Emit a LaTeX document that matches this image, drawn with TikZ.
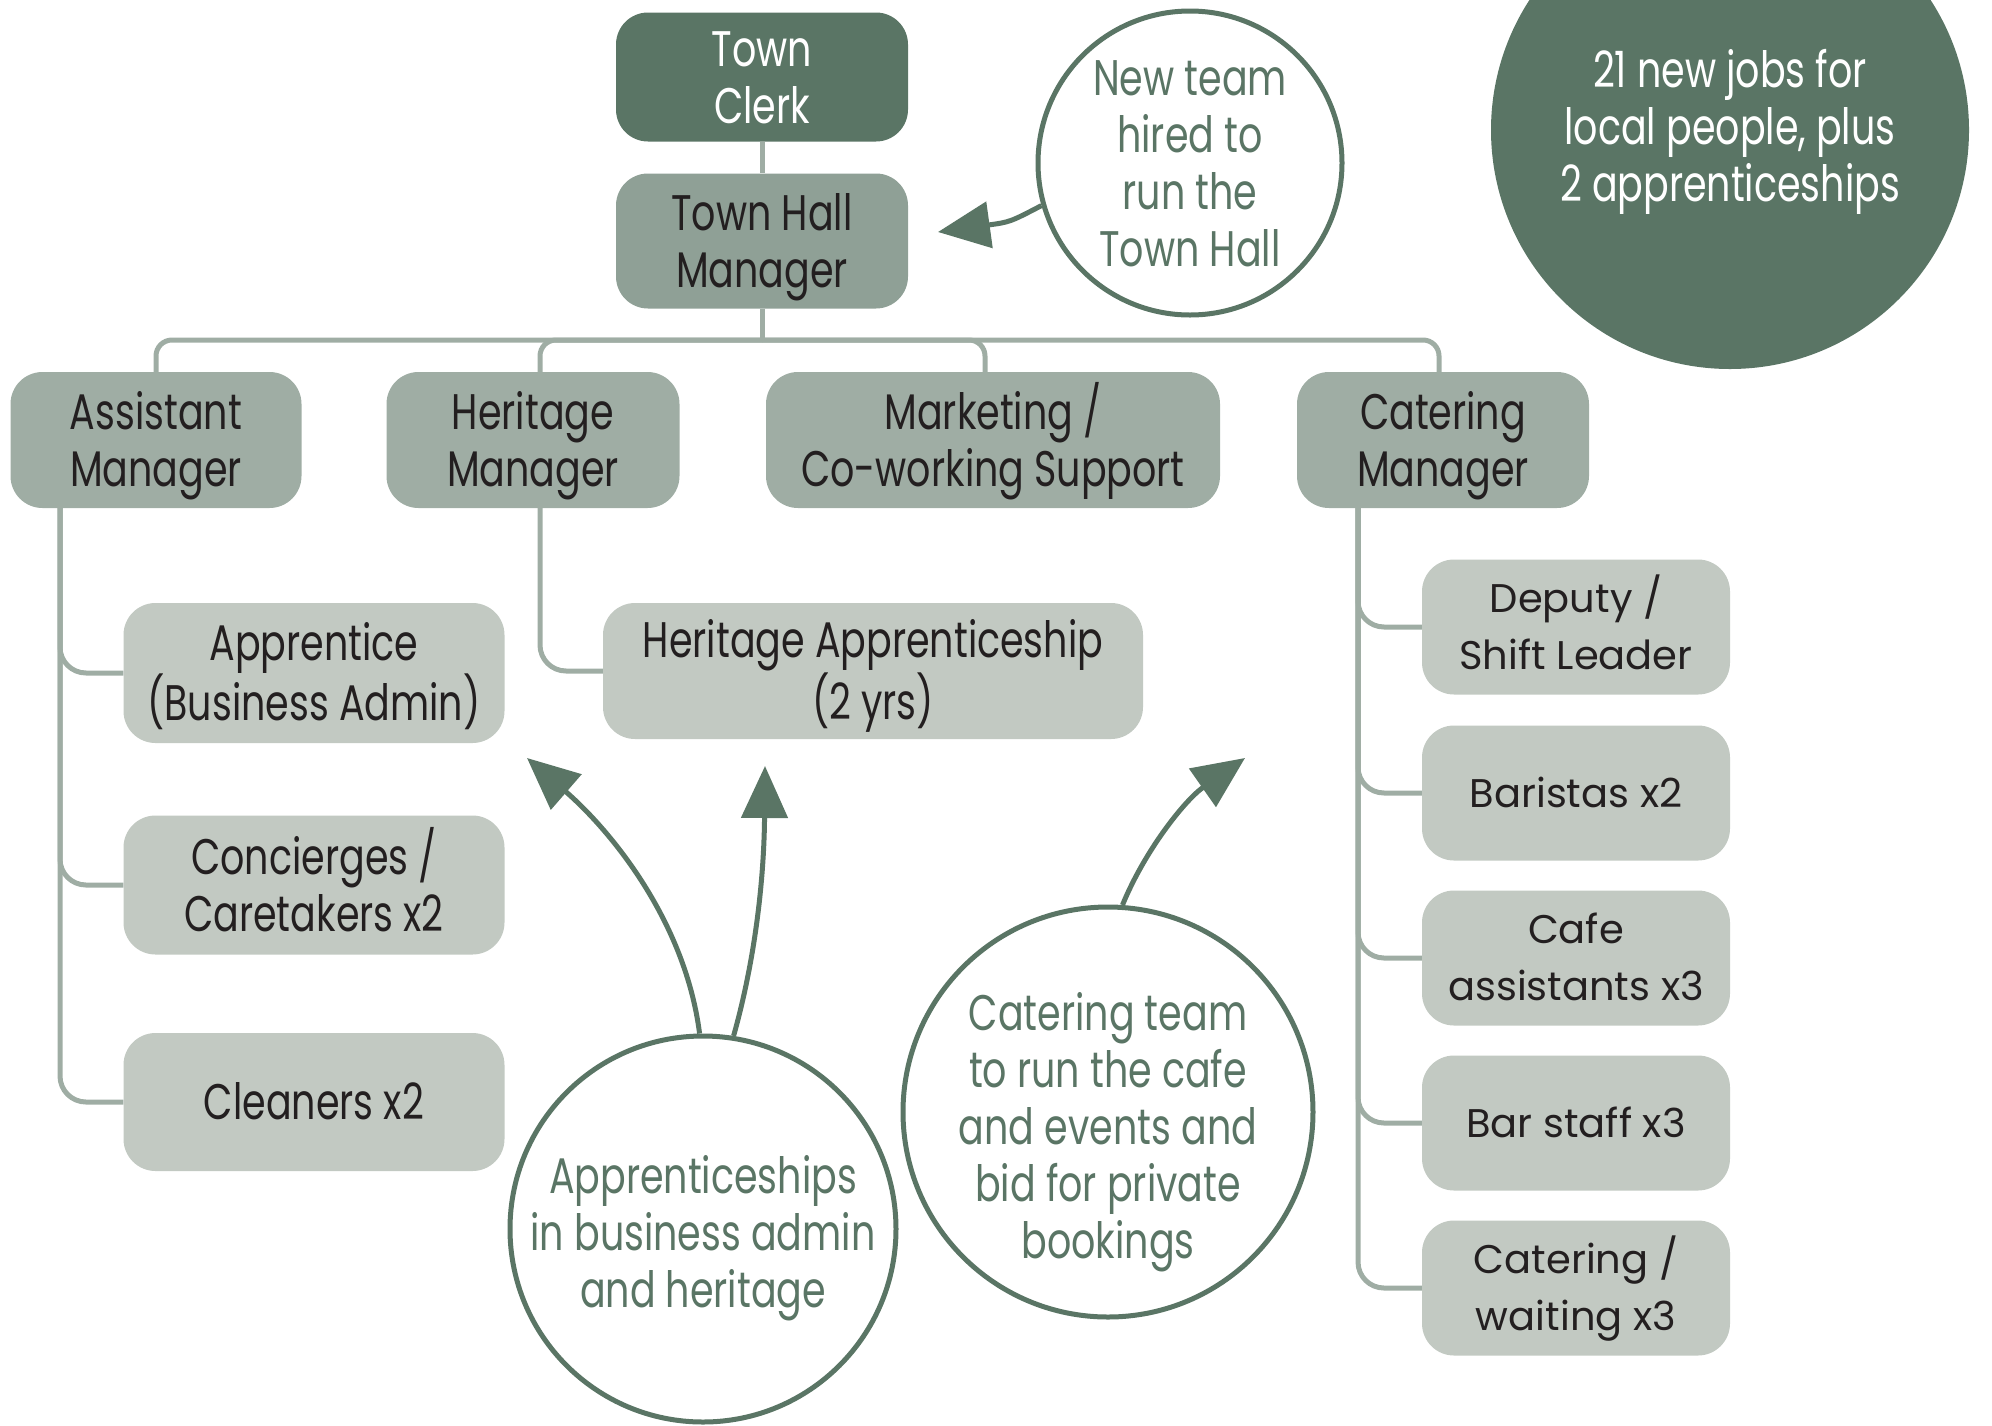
\documentclass[tikz,border=0pt]{standalone}
\usepackage{fontspec}
\setmainfont{Poppins}[FakeStretch=0.76]
\newfontfamily\widefont{Poppins}
\usetikzlibrary{arrows.meta}
\definecolor{dkgreen}{HTML}{5A7565}
\definecolor{midgreen}{HTML}{8FA096}
\definecolor{mgrgreen}{HTML}{9FADA4}
\definecolor{subgreen}{HTML}{C2C9C2}
\definecolor{linegreen}{HTML}{9FADA4}
\definecolor{txt}{HTML}{231F20}
\newcommand\topst[1][50pt]{\rule{0pt}{#1}}
\newcommand\botst[1][15pt]{\rule[-#1]{0pt}{0pt}}
\tikzset{
  box/.style={rounded corners=32pt, inner sep=0pt, align=center, text=txt,
    font=\fontsize{50}{57}\selectfont},
  mgr/.style={box, fill=mgrgreen, minimum height=136pt},
  sub/.style={box, fill=subgreen, minimum height=137pt},
  catsub/.style={sub, minimum width=308pt, minimum height=135pt,
    font=\widefont\fontsize{40}{57}\selectfont},
  bubble/.style={circle, draw=dkgreen, line width=5pt, fill=white, inner sep=-80pt,
    align=center, text=dkgreen, font=\fontsize{50}{57}\selectfont},
  conn/.style={draw=linegreen, line width=5pt},
  arr/.style={draw=dkgreen, line width=5pt,
    -{Triangle[length=52pt,width=46pt]}},
}
\begin{document}
\begin{tikzpicture}[x=1pt,y=-1pt]
\useasboundingbox (0,0) rectangle (1992,1425);
\clip (0,0) rectangle (1992,1425);
% top
\node[box, fill=dkgreen, text=white, minimum width=292pt, minimum height=129pt] (clerk) at (762,77) {\topst Town\\Clerk\botst};
\node[box, fill=midgreen, minimum width=292pt, minimum height=135pt] (thm) at (762,241) {\topst Town Hall\\Manager\botst};
% managers
\node[mgr, minimum width=291pt] (asst) at (156,440) {\topst Assistant\\Manager\botst};
\node[mgr, minimum width=293pt] (herit) at (533,440) {\topst Heritage\\Manager\botst};
\node[mgr, minimum width=454pt] (mkt) at (993,440) {\topst Marketing /\\Co-working Support\botst};
\node[mgr, minimum width=292pt] (cater) at (1443,440) {\topst Catering\\Manager\botst};
% assistant subs
\node[sub, minimum width=381pt, minimum height=140pt] (appr) at (314,673) {\topst Apprentice\\(Business Admin)\botst};
\node[sub, minimum width=381pt, minimum height=139pt] (conc) at (314,885) {\topst Concierges /\\Caretakers x2\botst};
\node[sub, minimum width=381pt, minimum height=138pt] (clean) at (314,1102) {\topst Cleaners x2\botst};
% heritage sub
\node[sub, minimum width=540pt, minimum height=136pt] (happr) at (873,671) {\topst Heritage Apprenticeship\\(2 yrs)\botst};
% catering subs
\node[catsub] (dep) at (1576,627) {\topst[40pt]Deputy /\\Shift Leader\botst[12pt]};
\node[catsub] (bar) at (1576,793) {\topst[40pt]Baristas x2\botst[12pt]};
\node[catsub] (cafe) at (1576,958) {\topst[40pt]Cafe\\assistants x3\botst[12pt]};
\node[catsub] (bstaff) at (1576,1123) {\topst[40pt]Bar staff x3\botst[12pt]};
\node[catsub] (wait) at (1576,1288) {\topst[40pt]Catering /\\waiting x3\botst[12pt]};
% connectors
\draw[conn] (clerk.south) -- (thm.north);
\coordinate (bus) at (762,340);
\draw[conn] (thm.south) -- (bus);
\draw[conn, rounded corners=16pt] (bus) -| (asst.north);
\draw[conn, rounded corners=16pt] (bus) -| (540,372) coordinate (hn);
\draw[conn, rounded corners=16pt] (bus) -| (985,372) coordinate (mn);
\draw[conn, rounded corners=16pt] (bus) -| (1439,372) coordinate (cn);
\coordinate (aline) at (60,508);
\draw[conn, rounded corners=26pt] (aline) |- (appr.west);
\draw[conn, rounded corners=26pt] (aline) |- (conc.west);
\draw[conn, rounded corners=26pt] (aline) |- (clean.west);
\coordinate (hline) at (540,508);
\draw[conn, rounded corners=26pt] (hline) |- (happr.west);
\coordinate (cline) at (1358,508);
\draw[conn, rounded corners=26pt] (cline) |- (dep.west);
\draw[conn, rounded corners=26pt] (cline) |- (bar.west);
\draw[conn, rounded corners=26pt] (cline) |- (cafe.west);
\draw[conn, rounded corners=26pt] (cline) |- (bstaff.west);
\draw[conn, rounded corners=26pt] (cline) |- (wait.west);
% bubbles
\node[circle, fill=dkgreen, minimum size=478pt, inner sep=-80pt, align=center, text=white,
  font=\fontsize{50}{57}\selectfont] (jobs) at (1730,130)
  {\topst[44pt]21 new jobs for\\local people, plus\\2 apprenticeships\botst};
\node[bubble, minimum size=304pt] (newteam) at (1190,163) {\topst New team\\hired to\\run the\\Town Hall\botst};
\node[bubble, minimum size=386pt] (apcirc) at (703,1229) {\topst[58pt]Apprenticeships\\in business admin\\and heritage\botst};
\node[bubble, minimum size=410pt] (catcirc) at (1108,1112) {\topst[80pt]Catering team\\to run the cafe\\and events and\\bid for private\\bookings\botst};
% arrows
\coordinate (t1) at (938,232);
\coordinate (t2) at (527,758);
\coordinate (t3) at (765,766);
\coordinate (t4) at (1245,758);
\draw[arr] (newteam.196) .. controls (1010,222) .. (t1);
\draw[arr] (apcirc.91) .. controls (685,920) and (610,830) .. (t2);
\draw[arr] (apcirc.81) .. controls (755,960) and (764,880) .. (t3);
\draw[arr] (catcirc.86) .. controls (1145,850) and (1185,800) .. (t4);
\end{tikzpicture}
\end{document}
